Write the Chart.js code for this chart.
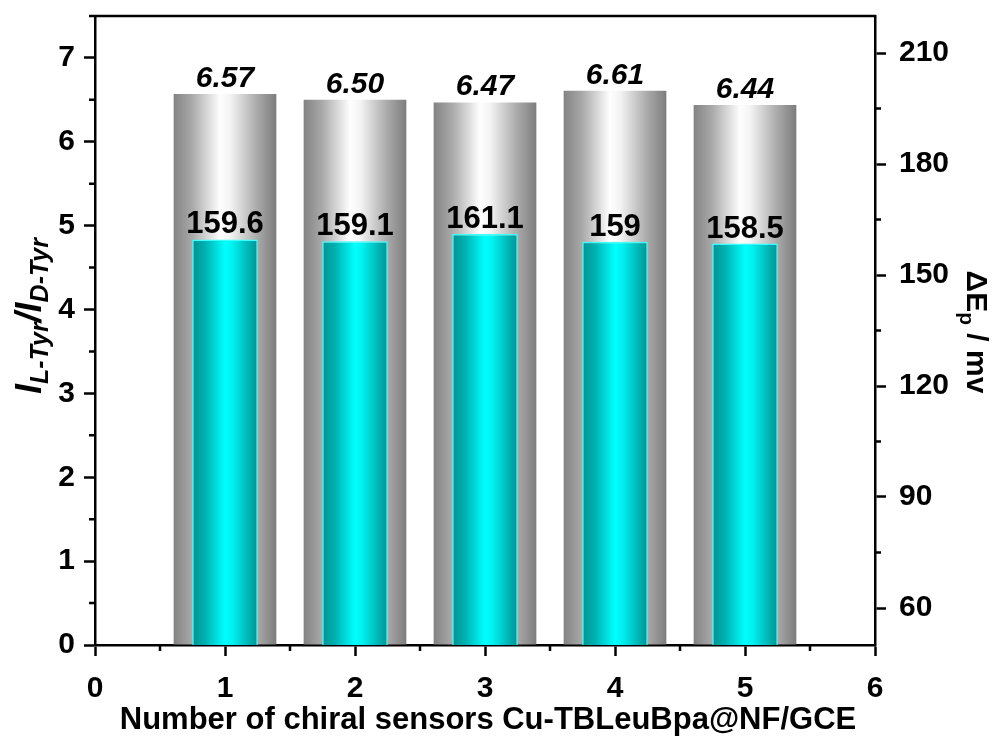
<!DOCTYPE html>
<html>
<head>
<meta charset="utf-8">
<script src="https://cdn.jsdelivr.net/npm/chart.js@4.4.1/dist/chart.umd.min.js"></script>
<style>
  html, body { margin: 0; padding: 0; background: #ffffff; }
  #wrap { width: 994px; height: 740px; position: relative; }
</style>
</head>
<body>
<div id="wrap"><canvas id="c" width="994" height="740"></canvas></div>
<script>
// Sensor index on the x axis
const sensors = [1, 2, 3, 4, 5];
// I(L-Tyr)/I(D-Tyr) current ratio, left axis
const currentRatio = [6.57, 6.50, 6.47, 6.61, 6.44];
// Peak potential separation ΔEp in mV, right axis
const peakSeparation = [159.6, 159.1, 161.1, 159, 158.5];

// Major and minor tick positions
const xTickValues = [0, 1, 2, 3, 4, 5, 6];
const xMinorTicks = [0.5, 1.5, 2.5, 3.5, 4.5, 5.5];
const leftTickValues = [0, 1, 2, 3, 4, 5, 6, 7];
const leftMinorTicks = [0.5, 1.5, 2.5, 3.5, 4.5, 5.5, 6.5, 7.5];
const rightTickValues = [60, 90, 120, 150, 180, 210];
const rightMinorTicks = [75, 105, 135, 165, 195];

const FONT = '"Liberation Sans", Arial, Helvetica, sans-serif';
const AXIS_W = 2.5;

const GRAY_FRAC = 0.79;
const CYAN_FRAC = 0.505;
const grayStops = [[0, '#838383'], [0.18, '#a9a9a9'], [0.45, '#fefefe'], [0.55, '#f4f4f4'], [0.82, '#a8a8a8'], [1, '#7d7d7d']];
const cyanStops = [[0, '#009292'], [0.2, '#00b2b2'], [0.5, '#00ffff'], [0.62, '#00f0f0'], [0.85, '#00b6b6'], [1, '#009494']];

// Horizontal cylinder-like shading for each bar
function barGradient(context, frac, stops) {
  const chart = context.chart;
  const xs = chart.scales && chart.scales.x;
  if (!chart.chartArea || !xs || context.dataIndex === undefined) return stops[2][1];
  const cx = xs.getPixelForValue(sensors[context.dataIndex]);
  const unit = xs.getPixelForValue(1) - xs.getPixelForValue(0);
  const w = unit * frac;
  const g = chart.ctx.createLinearGradient(cx - w / 2, 0, cx + w / 2, 0);
  stops.forEach(([o, c]) => g.addColorStop(o, c));
  return g;
}

function fixedTicks(values) {
  return function (scale) { scale.ticks = values.map(v => ({ value: v })); };
}

function axisOptions(extra) {
  return Object.assign({
    offset: false,
    grid: { display: true, drawOnChartArea: false, drawTicks: true, tickLength: 11, tickWidth: AXIS_W, tickColor: '#000', offset: false },
    border: { display: true, color: '#000', width: AXIS_W },
    title: { display: false }
  }, extra);
}

// Minor ticks, top frame line, value labels and axis titles
const decorations = {
  id: 'decorations',
  afterDatasetsDraw(chart) {
    const ctx = chart.ctx;
    ctx.save();
    ctx.fillStyle = '#000';
    ctx.textAlign = 'center';
    ctx.textBaseline = 'alphabetic';
    ctx.font = 'italic bold 30px ' + FONT;
    chart.getDatasetMeta(1).data.forEach((el, i) => {
      ctx.fillText(currentRatio[i].toFixed(2), el.x, el.y - 7);
    });
    ctx.font = 'bold 31px ' + FONT;
    chart.getDatasetMeta(0).data.forEach((el, i) => {
      ctx.fillText(String(peakSeparation[i]), el.x, el.y - 6);
    });
    ctx.restore();
  },
  afterDraw(chart) {
    const ctx = chart.ctx;
    const a = chart.chartArea;
    const xs = chart.scales.x, yl = chart.scales.y, yr = chart.scales.y2;
    ctx.save();
    ctx.strokeStyle = '#000';
    ctx.lineWidth = AXIS_W;
    ctx.beginPath();
    xMinorTicks.forEach(v => { const p = xs.getPixelForValue(v); ctx.moveTo(p, a.bottom); ctx.lineTo(p, a.bottom + 6); });
    leftMinorTicks.forEach(v => { const p = yl.getPixelForValue(v); ctx.moveTo(a.left, p); ctx.lineTo(a.left - 6, p); });
    rightMinorTicks.forEach(v => { const p = yr.getPixelForValue(v); ctx.moveTo(a.right, p); ctx.lineTo(a.right + 6, p); });
    ctx.moveTo(a.left - 1, a.top);
    ctx.lineTo(a.right + 1, a.top);
    ctx.stroke();

    ctx.fillStyle = '#000';
    // x axis title
    ctx.textAlign = 'center';
    ctx.textBaseline = 'alphabetic';
    ctx.font = 'bold 31px ' + FONT;
    ctx.fillText('Number of chiral sensors Cu-TBLeuBpa@NF/GCE', 488, 729);

    // left title: I_{L-Tyr}/I_{D-Tyr}
    drawRuns(ctx, [
      { text: 'I', font: 'italic bold 36px ' + FONT, dy: 0 },
      { text: 'L-Tyr', font: 'italic bold 25px ' + FONT, dy: 7 },
      { text: '/', font: 'italic bold 36px ' + FONT, dy: 0 },
      { text: 'I', font: 'italic bold 36px ' + FONT, dy: 0 },
      { text: 'D-Tyr', font: 'italic bold 25px ' + FONT, dy: 7 }
    ], 41, 316, -Math.PI / 2);

    // right title: ΔE_p / mv
    drawRuns(ctx, [
      { text: '\u0394E', font: 'bold 30px ' + FONT, dy: 0 },
      { text: 'p', font: 'bold 21px ' + FONT, dy: 7 },
      { text: ' / mv', font: 'bold 30px ' + FONT, dy: 0 }
    ], 967, 332, Math.PI / 2);
    ctx.restore();
  }
};

function drawRuns(ctx, runs, cx, cy, angle) {
  let total = 0;
  runs.forEach(r => { ctx.font = r.font; r.w = ctx.measureText(r.text).width; total += r.w; });
  ctx.save();
  ctx.translate(cx, cy);
  ctx.rotate(angle);
  ctx.textAlign = 'left';
  ctx.textBaseline = 'alphabetic';
  let x = -total / 2;
  runs.forEach(r => { ctx.font = r.font; ctx.fillText(r.text, x, r.dy); x += r.w; });
  ctx.restore();
}

new Chart(document.getElementById('c'), {
  type: 'bar',
  data: {
    datasets: [
      {
        label: '\u0394Ep / mv',
        data: sensors.map((s, i) => ({ x: s, y: peakSeparation[i] })),
        yAxisID: 'y2',
        grouped: false,
        categoryPercentage: 1,
        barPercentage: CYAN_FRAC,
        backgroundColor: ctx => barGradient(ctx, CYAN_FRAC, cyanStops),
        borderColor: '#3cffff',
        borderWidth: 1.5,
        borderSkipped: 'bottom'
      },
      {
        label: 'IL-Tyr/ID-Tyr',
        data: sensors.map((s, i) => ({ x: s, y: currentRatio[i] })),
        yAxisID: 'y',
        grouped: false,
        categoryPercentage: 1,
        barPercentage: GRAY_FRAC,
        backgroundColor: ctx => barGradient(ctx, GRAY_FRAC, grayStops),
        borderWidth: 0
      }
    ]
  },
  options: {
    responsive: false,
    devicePixelRatio: 1,
    animation: false,
    layout: { padding: { top: 16, left: 0, right: 0, bottom: 0 } },
    plugins: { legend: { display: false }, tooltip: { enabled: false } },
    scales: {
      x: axisOptions({
        type: 'linear', position: 'bottom', min: 0, max: 6,
        afterBuildTicks: fixedTicks(xTickValues),
        afterFit(s) { s.height = 95; s.paddingLeft = 0; s.paddingRight = 0; },
        ticks: { color: '#000', padding: 15, maxRotation: 0, font: { family: FONT, size: 30, weight: 'bold' } }
      }),
      y: axisOptions({
        type: 'linear', position: 'left', min: 0, max: 7.5,
        afterBuildTicks: fixedTicks(leftTickValues),
        afterFit(s) { s.width = 95; s.paddingTop = 0; s.paddingBottom = 0; },
        ticks: { color: '#000', padding: 9, font: { family: FONT, size: 30, weight: 'bold' } }
      }),
      y2: axisOptions({
        type: 'linear', position: 'right', min: 50, max: 220,
        afterBuildTicks: fixedTicks(rightTickValues),
        afterFit(s) { s.width = 119; s.paddingTop = 0; s.paddingBottom = 0; },
        ticks: { color: '#000', padding: 13, font: { family: FONT, size: 30, weight: 'bold' } }
      })
    }
  },
  plugins: [decorations]
});
</script>
</body>
</html>
